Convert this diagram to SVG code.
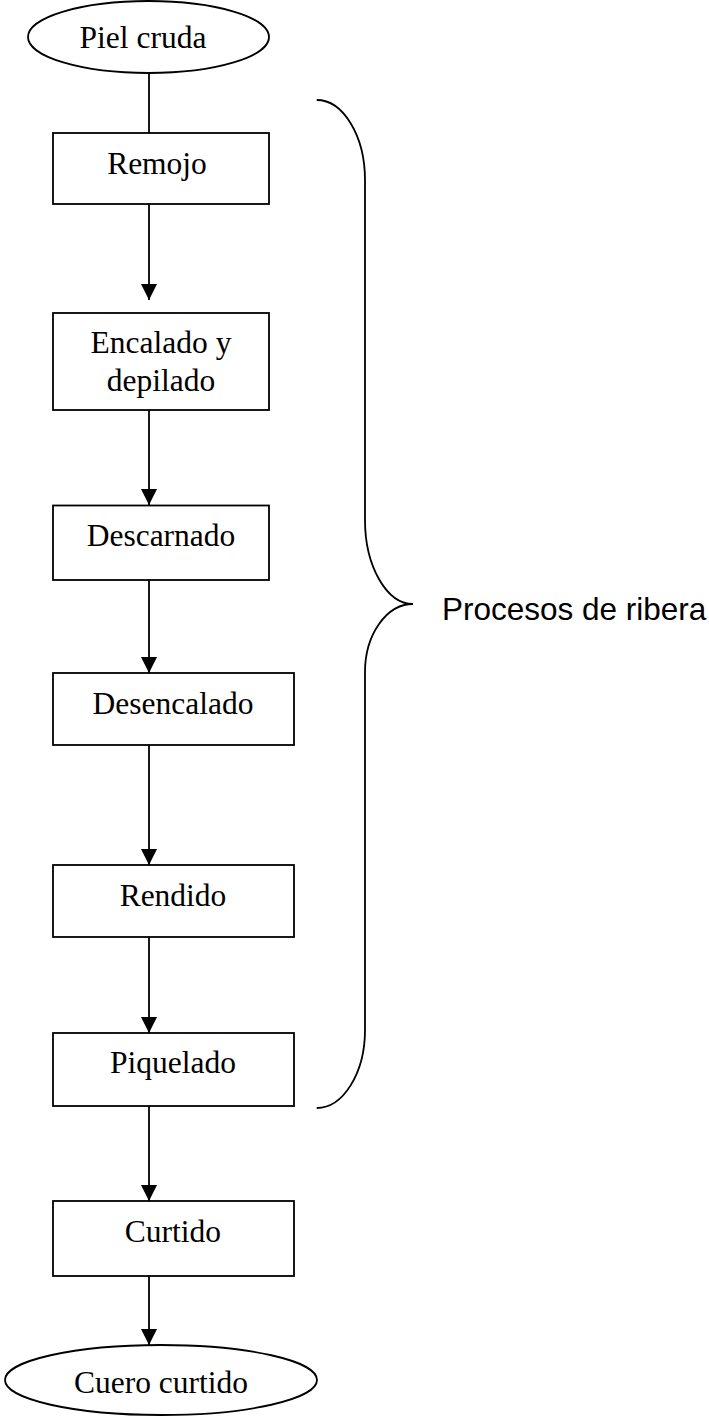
<svg xmlns="http://www.w3.org/2000/svg" width="709" height="1416" viewBox="0 0 709 1416">
<style>
.box{fill:#fff;stroke:#000;stroke-width:1.8}
.t{font-family:"Liberation Serif","Times New Roman",serif;font-size:31.5px;fill:#000;text-anchor:middle}
.s{font-family:"Liberation Sans",Arial,sans-serif;font-size:31.5px;fill:#000}
.c{fill:none;stroke:#000;stroke-width:1.8}
</style>
<defs>
<marker id="ah" markerUnits="userSpaceOnUse" markerWidth="17" markerHeight="17" viewBox="0 0 17 17" refX="16" refY="8.5" orient="auto">
<path d="M0,0.5 L16,8.5 L0,16.5 Z" fill="#000"/>
</marker>
</defs>
<rect width="709" height="1416" fill="#fff"/>
<g id="connectors">
<line class="c" x1="149" y1="73" x2="149" y2="133"/>
<line class="c" x1="149" y1="204" x2="149" y2="300" marker-end="url(#ah)"/>
<line class="c" x1="149" y1="410" x2="149" y2="505" marker-end="url(#ah)"/>
<line class="c" x1="149" y1="580" x2="149" y2="673" marker-end="url(#ah)"/>
<line class="c" x1="149" y1="745" x2="149" y2="865" marker-end="url(#ah)"/>
<line class="c" x1="149" y1="937" x2="149" y2="1033" marker-end="url(#ah)"/>
<line class="c" x1="149" y1="1106" x2="149" y2="1201" marker-end="url(#ah)"/>
<line class="c" x1="149" y1="1276" x2="149" y2="1345" marker-end="url(#ah)"/>
</g>
<g id="piel-cruda">
<ellipse class="box" cx="148.5" cy="37" rx="120.5" ry="36"/>
<text class="t" x="143" y="48">Piel cruda</text>
</g>
<g id="remojo">
<rect class="box" x="53" y="133" width="216" height="71"/>
<text class="t" x="157" y="174">Remojo</text>
</g>
<g id="encalado">
<rect class="box" x="53" y="313" width="216" height="97"/>
<text class="t" x="161" y="353">Encalado y</text>
<text class="t" x="161" y="391">depilado</text>
</g>
<g id="descarnado">
<rect class="box" x="53" y="505.5" width="216" height="74.5"/>
<text class="t" x="161" y="546">Descarnado</text>
</g>
<g id="desencalado">
<rect class="box" x="53" y="673" width="241" height="72"/>
<text class="t" x="173" y="714">Desencalado</text>
</g>
<g id="rendido">
<rect class="box" x="53" y="865" width="241" height="72"/>
<text class="t" x="173" y="906">Rendido</text>
</g>
<g id="piquelado">
<rect class="box" x="53" y="1033" width="241" height="73"/>
<text class="t" x="173" y="1073">Piquelado</text>
</g>
<g id="curtido">
<rect class="box" x="53" y="1201" width="241" height="75"/>
<text class="t" x="173" y="1242">Curtido</text>
</g>
<g id="cuero-curtido">
<ellipse class="box" cx="161" cy="1380" rx="156" ry="35"/>
<text class="t" x="161" y="1393">Cuero curtido</text>
</g>
<g id="brace">
<path class="c" d="M316.7,100 C343.2,100 365,135.8 365,180 L365,520 C365,566 386.5,604 413,604 C386.5,604 365,634.5 365,672 L365,1030 C365,1073 343.2,1108 316.7,1108"/>
<text class="s" x="442" y="620">Procesos de ribera</text>
</g>
</svg>
